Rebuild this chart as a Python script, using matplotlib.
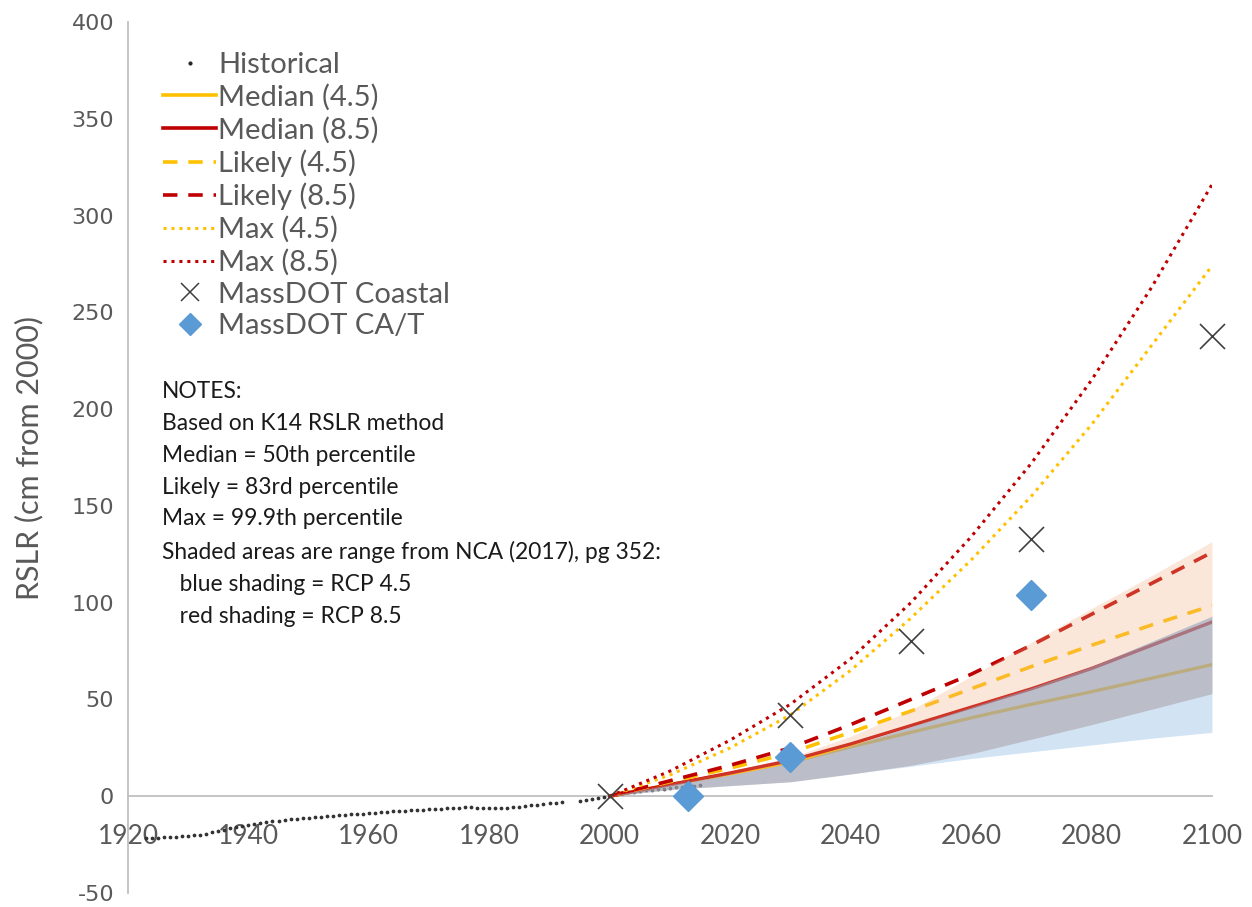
import numpy as np
import matplotlib
matplotlib.use("Agg")
import matplotlib.pyplot as plt
from matplotlib.lines import Line2D

plt.rcParams["axes.unicode_minus"] = False

# historical RSLR, cm from 2000 (gap 1993-94)
hist_years = list(range(1923, 1993)) + list(range(1995, 2016))
hist_vals = [-21.8, -21.6, -21.4, -21.2, -21.0, -20.8, -20.6, -20.4, -20.2, -19.9,
             -19.4, -18.7, -18.0, -17.3, -16.6, -15.9, -15.3, -14.7, -14.2, -13.8,
             -13.4, -13.0, -12.6, -12.2, -11.9, -11.6, -11.3, -11.0, -10.8, -10.6,
             -10.4, -10.1, -9.9, -9.6, -9.4, -9.2, -9.0, -8.8, -8.5, -8.2,
             -8.0, -7.8, -7.6, -7.4, -7.3, -7.2, -7.0, -6.8, -6.6, -6.4,
             -6.2, -6.0, -5.9, -5.8, -5.8, -5.9, -6.0, -6.1, -6.2, -6.2,
             -6.0, -5.7, -5.4, -5.0, -4.7, -4.4, -4.0, -3.6, -3.3, -2.9,
             -2.4, -1.9, -1.4, -1.0, -0.5, 0.0, 1.0, 1.6, 2.0, 2.4,
             2.8, 3.1, 3.4, 3.7, 4.0, 4.3, 4.6, 4.9, 5.2, 5.5, 5.7]

years = [2000, 2010, 2020, 2030, 2040, 2050, 2060, 2070, 2080, 2090, 2100]
median_45 = [0, 6, 11.5, 17.5, 25.5, 33, 40.5, 47.5, 54, 61, 68]
median_85 = [0, 6, 12, 18.5, 27, 36.5, 46, 55.5, 66, 78, 90]
likely_45 = [0, 7.5, 14.5, 22.5, 33, 44, 55.5, 67, 78, 88.5, 98.5]
likely_85 = [0, 8, 16, 25, 37, 50, 63, 78, 94, 110, 126]
max_45 = [0, 11, 25, 42, 65, 92, 122, 155, 192, 233, 274]
max_85 = [0, 13, 29, 47.5, 71, 100, 134, 172, 215, 263, 316]

# NCA (2017) ranges
rcp45_low = [0, 3.5, 5.5, 7.5, 11.5, 15.5, 19.5, 23, 26.5, 30, 33]
rcp45_high = [0, 6, 11, 17, 26, 36, 46, 56, 67, 80, 93]
rcp85_low = [0, 3.5, 5.5, 7.5, 11.5, 16, 22, 29.5, 37, 45, 53]
rcp85_high = [0, 7, 13, 20, 31, 44.5, 62, 79.5, 97, 114, 131.5]

coastal_years = [2000, 2030, 2050, 2070, 2100]
coastal_vals = [0, 42, 80, 133, 238]
cat_years = [2013, 2030, 2070]
cat_vals = [0, 20.5, 104]

ORANGE = "#FFC000"
RED = "#C00000"
GREY_TXT = "#595959"
DASH = (0, (4, 3))
DOT = (0, (1, 1.6))

fig = plt.figure(figsize=(12.52, 9.07), dpi=100)
ax = fig.add_axes([0.1022, 0.0154, 0.8658, 0.9603])

ax.plot(hist_years, hist_vals, linestyle="none", marker="o", markersize=1.7,
        color="#333333", zorder=2)

ax.plot(years, median_45, color=ORANGE, lw=2.4, zorder=2)
ax.plot(years, median_85, color=RED, lw=2.4, zorder=2)
ax.plot(years, likely_45, color=ORANGE, lw=2.6, linestyle=DASH, zorder=2)
ax.plot(years, likely_85, color=RED, lw=2.6, linestyle=DASH, zorder=2)
ax.plot(years, max_45, color=ORANGE, lw=2.2, linestyle=DOT, zorder=2)
ax.plot(years, max_85, color=RED, lw=2.2, linestyle=DOT, zorder=2)

# shading drawn over the lines like the original
ax.fill_between(years, rcp45_low, rcp45_high, color="#9DC3E6", alpha=0.45,
                lw=0, zorder=3)
ax.fill_between(years, rcp85_low, rcp85_high, color="#F4B183", alpha=0.3,
                lw=0, zorder=3)
ov_low = np.maximum(rcp45_low, rcp85_low)
ov_high = np.minimum(rcp45_high, rcp85_high)
ax.fill_between(years, ov_low, ov_high, color="#5A7DB0", alpha=0.25,
                lw=0, zorder=3)

ax.plot(coastal_years, coastal_vals, linestyle="none", marker="x", markersize=18,
        mew=1.2, color="#404040", zorder=5, clip_on=False)
ax.plot(cat_years, cat_vals, linestyle="none", marker="D", markersize=15,
        color="#5B9BD5", zorder=5, clip_on=False)

ax.set_xlim(1920, 2100)
ax.set_ylim(-50, 400)
ax.set_xticks(range(1920, 2101, 20))
ax.set_yticks(range(-50, 401, 50))

for s in ["top", "right"]:
    ax.spines[s].set_visible(False)
ax.spines["bottom"].set_position(("data", 0))
ax.spines["bottom"].set_color("#BFBFBF")
ax.spines["bottom"].set_linewidth(1.3)
ax.spines["bottom"].set_zorder(1)
ax.spines["left"].set_color("#BFBFBF")
ax.spines["left"].set_linewidth(1.3)

ax.tick_params(axis="x", length=0, pad=20, labelsize=19, labelcolor=GREY_TXT)
ax.tick_params(axis="y", length=0, pad=10, labelsize=16, labelcolor=GREY_TXT)
for lab in ax.get_xticklabels():
    lab.set_family("Lato")
for lab in ax.get_yticklabels():
    lab.set_family("DejaVu Sans")

ax.set_ylabel("RSLR (cm from 2000)", fontsize=22, color=GREY_TXT, family="Lato")
ax.yaxis.set_label_coords(-0.078, 0.5)

handles = [
    Line2D([], [], linestyle="none", marker="o", markersize=2.0, color="#262626"),
    Line2D([], [], color=ORANGE, lw=2.6),
    Line2D([], [], color=RED, lw=2.6),
    Line2D([], [], color=ORANGE, lw=2.6, linestyle=DASH),
    Line2D([], [], color=RED, lw=2.6, linestyle=DASH),
    Line2D([], [], color=ORANGE, lw=2.2, linestyle=DOT),
    Line2D([], [], color=RED, lw=2.2, linestyle=DOT),
    Line2D([], [], linestyle="none", marker="x", markersize=13, mew=1.1, color="#404040"),
    Line2D([], [], linestyle="none", marker="D", markersize=11, color="#5B9BD5"),
]
labels = ["Historical", "Median (4.5)", "Median (8.5)", "Likely (4.5)", "Likely (8.5)",
          "Max (4.5)", "Max (8.5)", "MassDOT Coastal", "MassDOT CA/T"]
leg = ax.legend(handles, labels, loc="upper left", bbox_to_anchor=(0.022, 0.979),
                frameon=False, prop={"family": "Lato", "size": 21},
                handlelength=1.8, handletextpad=0.08, labelspacing=0.2,
                borderaxespad=0)
for t in leg.get_texts():
    t.set_color(GREY_TXT)

notes = ["NOTES:",
         "Based on K14 RSLR method",
         "Median = 50th percentile",
         "Likely = 83rd percentile",
         "Max = 99.9th percentile",
         "Shaded areas are range from NCA (2017), pg 352:",
         "   blue shading = RCP 4.5",
         "   red shading = RCP 8.5"]
ax.text(0.031, 0.588, "\n".join(notes), transform=ax.transAxes, ha="left", va="top",
        fontsize=16.4, family="Lato", color="#1a1a1a", linespacing=1.64)

fig.savefig("out.png", dpi=100)
